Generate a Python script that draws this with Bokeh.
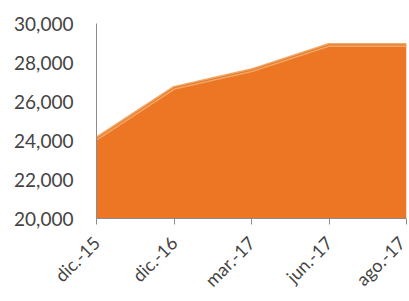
import math
from bokeh.plotting import figure
from bokeh.models import Range1d, FixedTicker, NumeralTickFormatter
from bokeh.embed import file_html
from bokeh.resources import INLINE

categories = ["dic.-15", "dic.-16", "mar.-17", "jun.-17", "ago.-17"]
values = [24100, 26700, 27600, 28900, 28900]
y_ticks = [20000, 22000, 24000, 26000, 28000, 30000]

xs = list(range(len(categories)))

p = figure(width=409, height=301, output_backend="svg", toolbar_location=None,
           x_range=Range1d(0, len(categories) - 1), y_range=Range1d(20000, 30000),
           min_border_left=96, min_border_right=3, min_border_top=23, min_border_bottom=80)
p.outline_line_color = None
p.background_fill_color = "white"
p.border_fill_color = "white"
p.xgrid.visible = False
p.ygrid.visible = False

p.varea(x=xs, y1=[20000] * len(xs), y2=values, fill_color="#EC7624")
p.line(x=xs, y=values, line_color="#F6A560", line_width=4)
p.line(x=xs, y=values, line_color="#D77A36", line_width=1)

font = "Lato"
p.yaxis.ticker = FixedTicker(ticks=y_ticks)
p.yaxis.formatter = NumeralTickFormatter(format="0,0")
p.yaxis.major_tick_line_color = None
p.yaxis.minor_tick_line_color = None
p.yaxis.axis_line_color = "#8c8c8c"
p.yaxis.major_label_text_font = font
p.yaxis.major_label_text_font_size = "19px"
p.yaxis.major_label_text_color = "#444444"
p.yaxis.major_label_standoff = 17

p.xaxis.ticker = FixedTicker(ticks=xs)
p.xaxis.major_label_overrides = {i: c for i, c in zip(xs, categories)}
p.xaxis.major_label_orientation = math.pi / 4
p.xaxis.minor_tick_line_color = None
p.xaxis.major_tick_out = 6
p.xaxis.major_tick_in = 0
p.xaxis.major_tick_line_color = "#8c8c8c"
p.xaxis.axis_line_color = "#8c8c8c"
p.xaxis.major_label_text_font = font
p.xaxis.major_label_text_font_size = "18px"
p.xaxis.major_label_text_color = "#444444"
p.xaxis.major_label_standoff = 15

open("out.html", "w").write(file_html(p, INLINE))
